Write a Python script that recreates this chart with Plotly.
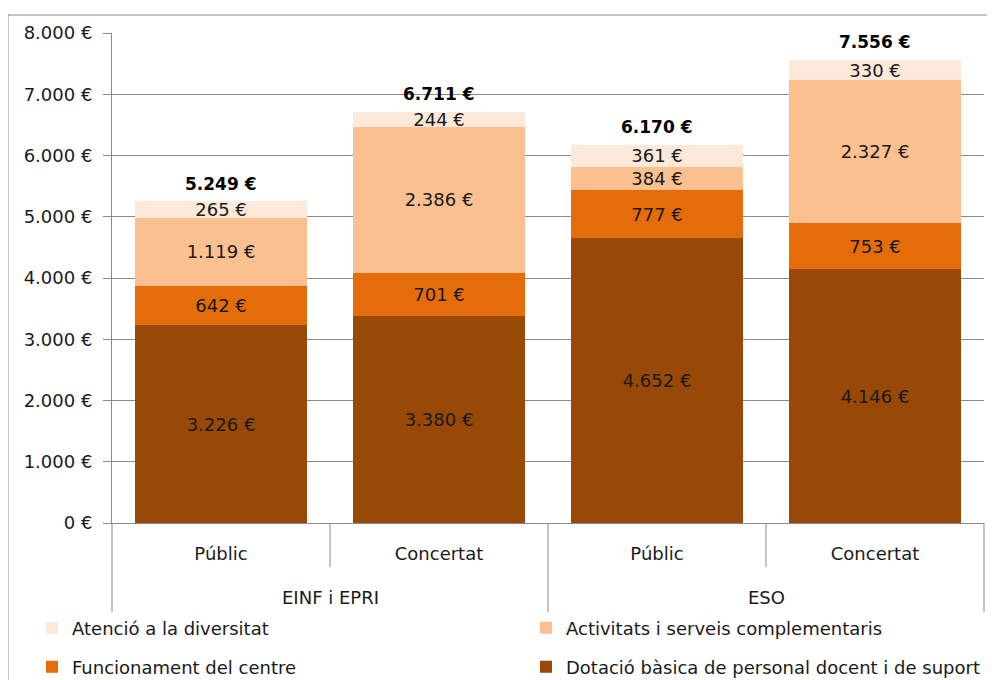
import plotly.graph_objects as go

# ---- data ----
groups = ["EINF i EPRI", "ESO"]
types = ["Públic", "Concertat", "Públic", "Concertat"]
series_names = [
    "Dotació bàsica de personal docent i de suport",
    "Funcionament del centre",
    "Activitats i serveis complementaris",
    "Atenció a la diversitat",
]
dotacio = [3226, 3380, 4652, 4146]
funcionament = [642, 701, 777, 753]
activitats = [1119, 2386, 384, 2327]
atencio = [265, 244, 361, 330]
totals = [5249, 6711, 6170, 7556]
y_tick_values = [0, 1000, 2000, 3000, 4000, 5000, 6000, 7000, 8000]
y_tick_labels = ["0 €", "1.000 €", "2.000 €", "3.000 €", "4.000 €",
                 "5.000 €", "6.000 €", "7.000 €", "8.000 €"]

colors = ["#984807", "#E46C0A", "#FAC090", "#FDE9D9"]
FONT = "DejaVu Sans"
TXT = "#1a1a1a"
GRID = "#8a8a8a"

W, H = 987, 672


def eur(v):
    return f"{v:,}".replace(",", ".") + " €"


xpos = list(range(len(types)))
series_values = [dotacio, funcionament, activitats, atencio]

fig = go.Figure()
legend_ids = ["legend4", "legend3", "legend2", "legend"]
for name, vals, col, lg in zip(series_names, series_values, colors, legend_ids):
    fig.add_trace(go.Bar(
        x=xpos, y=vals, name=name,
        marker=dict(color=col, line=dict(width=0)),
        width=0.789,
        text=[eur(v) for v in vals],
        textposition="inside",
        insidetextanchor="middle",
        textangle=0,
        textfont=dict(family=FONT, size=18, color=TXT),
        legend=lg,
        hoverinfo="skip",
    ))

# totals above bars
for xi, t in zip(xpos, totals):
    fig.add_annotation(x=xi, y=t, xref="x", yref="y", text=f"<b>{eur(t)}</b>",
                       showarrow=False, yanchor="bottom", yshift=6,
                       font=dict(family=FONT, size=17, color="#000000"))

# group labels
for gi, g in enumerate(groups):
    fig.add_annotation(x=gi * 2 + 0.5, y=-0.153, xref="x", yref="paper", text=g,
                       showarrow=False, yanchor="middle",
                       font=dict(family=FONT, size=18, color=TXT))

shapes = []
# inner dividers between types within a group
for gi in range(len(groups)):
    shapes.append(dict(type="line", xref="x", yref="paper",
                       x0=gi * 2 + 0.5, x1=gi * 2 + 0.5, y0=0, y1=-0.09,
                       line=dict(color=GRID, width=1)))
# group divider
shapes.append(dict(type="line", xref="x", yref="paper", x0=1.5, x1=1.5,
                   y0=0, y1=-0.182, line=dict(color=GRID, width=1)))
# outer edges
for xe in [0, 1]:
    shapes.append(dict(type="line", xref="paper", yref="paper", x0=xe, x1=xe,
                       y0=0, y1=-0.182, line=dict(color=GRID, width=1)))
# chart border
shapes.append(dict(type="rect", xref="paper", yref="paper",
                   x0=-0.1193, x1=1.05, y0=-0.4, y1=1.0367,
                   line=dict(color=GRID, width=1), fillcolor="rgba(0,0,0,0)",
                   layer="below"))

legend_common = dict(xref="container", yref="container", xanchor="left",
                     yanchor="middle", orientation="h",
                     bgcolor="rgba(0,0,0,0)",
                     font=dict(family=FONT, size=18, color=TXT))

fig.update_layout(
    width=W, height=H,
    margin=dict(l=104, r=11, t=25, b=157),
    paper_bgcolor="white", plot_bgcolor="white",
    barmode="stack",
    showlegend=True,
    font=dict(family=FONT, size=18, color=TXT),
    shapes=shapes,
    uniformtext=dict(minsize=18, mode="show"),
    legend=dict(x=24 / W, y=1 - 620 / H, **legend_common),
    legend2=dict(x=518 / W, y=1 - 620 / H, **legend_common),
    legend3=dict(x=24 / W, y=1 - 659 / H, **legend_common),
    legend4=dict(x=518 / W, y=1 - 659 / H, **legend_common),
    xaxis=dict(
        range=[-0.5, 3.5], tickvals=xpos, ticktext=types,
        showgrid=False, zeroline=False, showline=True, linecolor=GRID,
        linewidth=1, ticks="", ticklabelstandoff=14,
        tickfont=dict(family=FONT, size=18, color=TXT),
        fixedrange=True,
    ),
    yaxis=dict(
        range=[0, 8000], tickvals=y_tick_values, ticktext=y_tick_labels,
        showgrid=True, gridcolor=GRID, gridwidth=1, zeroline=False,
        showline=True, linecolor=GRID, linewidth=1,
        ticks="outside", ticklen=8, tickcolor=GRID, ticklabelstandoff=7,
        tickfont=dict(family=FONT, size=18, color=TXT),
        fixedrange=True,
    ),
)

fig.write_html("out.html")
